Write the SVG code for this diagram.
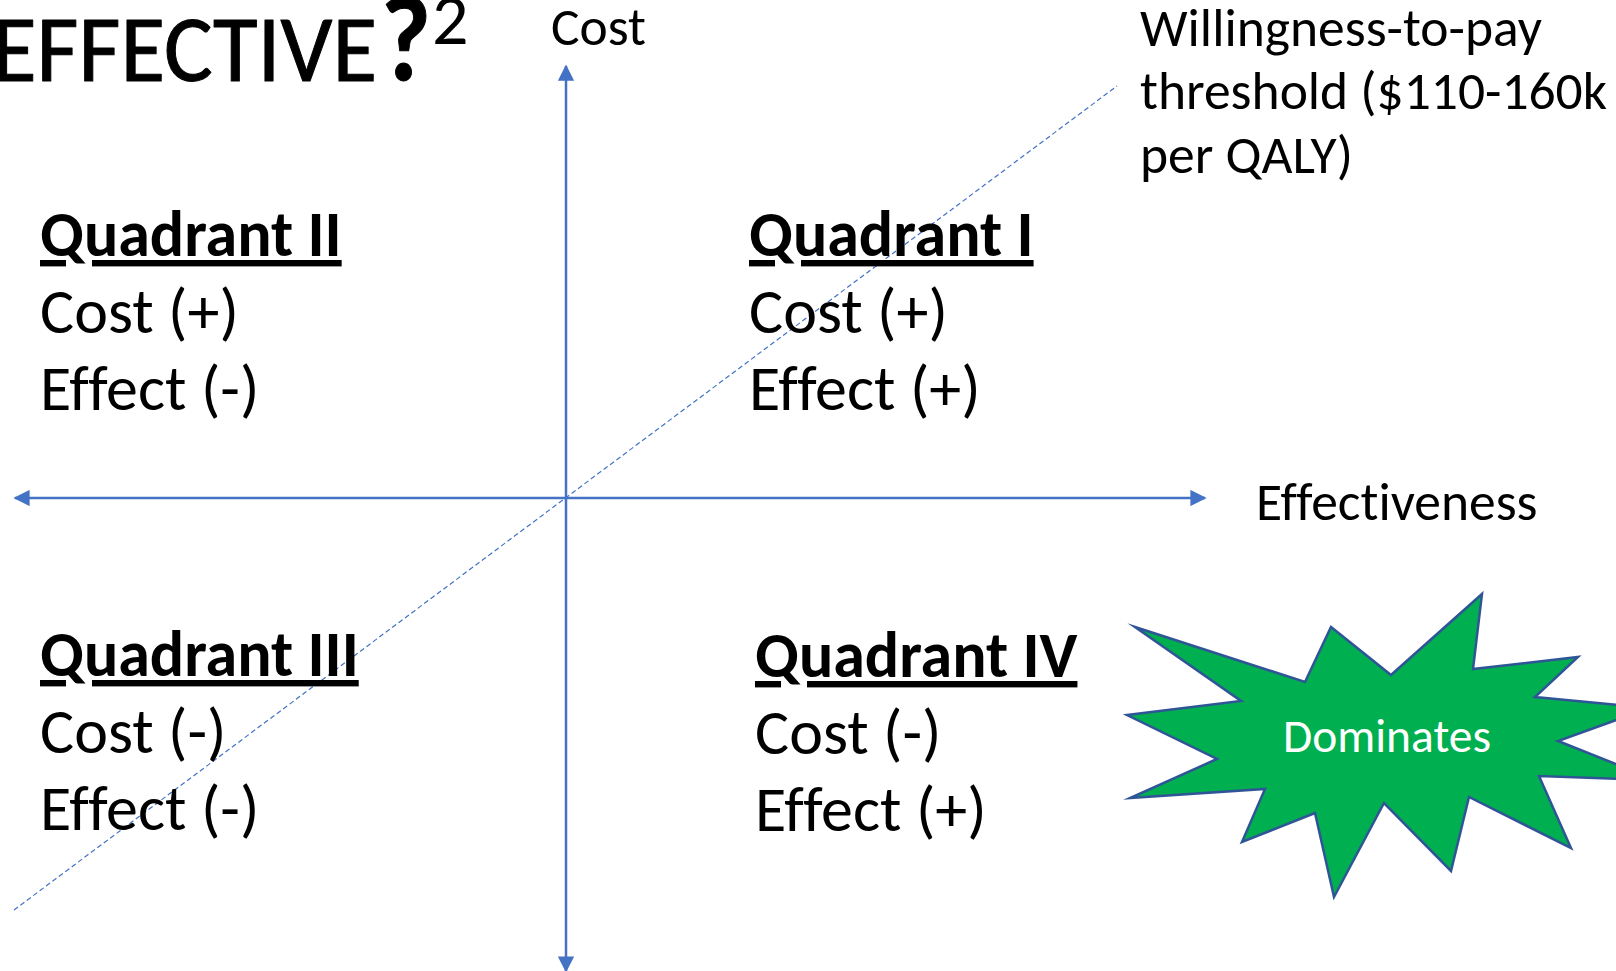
<svg xmlns="http://www.w3.org/2000/svg" width="1616" height="971" viewBox="0 0 1616 971">
<style>
text{font-family:Carlito,Lato,"Open Sans",sans-serif;fill:#000;font-variant-ligatures:none}
.h{font-size:64px;font-weight:700;text-decoration:underline;text-decoration-skip-ink:none;text-underline-offset:8px}
.b{font-size:64px}
.s{font-size:53.5px}
.t{stroke:#000;stroke-width:1;stroke-linejoin:round}
.axis{stroke:#4472C4;stroke-width:2.5;fill:none}
</style>
<defs>
<marker id="arr" viewBox="0 0 10 10" refX="9" refY="5" markerWidth="6.5" markerHeight="6.5" orient="auto-start-reverse"><path d="M0 0L10 5L0 10Z" fill="#4472C4"/></marker>
</defs>
<rect width="1616" height="971" fill="#fff"/>
<g id="connectors">
<line class="axis" x1="566" y1="66" x2="566" y2="971" marker-start="url(#arr)" marker-end="url(#arr)"/>
<line class="axis" x1="15" y1="498" x2="1205" y2="498" marker-start="url(#arr)" marker-end="url(#arr)"/>
<line x1="14" y1="910" x2="1117" y2="86" stroke="#4472C4" stroke-width="1.2" stroke-dasharray="5 3" fill="none"/>
</g>
<g id="title">
<text class="t" x="-8" y="81" font-size="94" textLength="385" lengthAdjust="spacingAndGlyphs">EFFECTIVE</text>
<text class="t" x="381" y="80" font-size="122" font-weight="700" textLength="50" lengthAdjust="spacingAndGlyphs">?</text>
<text x="432" y="44" font-size="72">2</text>
</g>
<g id="cost-label"><text class="s" x="551" y="45">Cost</text></g>
<g id="effectiveness-label"><text class="s" x="1256" y="520">Effectiveness</text></g>
<g id="wtp-label">
<text class="s" x="1140" y="46">Willingness-to-pay</text>
<text class="s" x="1140" y="109">threshold ($110-160k</text>
<text class="s" x="1140" y="173">per QALY)</text>
</g>
<g id="quadrant-2">
<text class="h" x="40" y="256">Quadrant II</text>
<text class="b" x="40" y="333">Cost (+)</text>
<text class="b" x="40" y="410">Effect (-)</text>
</g>
<g id="quadrant-1">
<text class="h" x="749" y="256">Quadrant I</text>
<text class="b" x="749" y="333">Cost (+)</text>
<text class="b" x="749" y="410">Effect (+)</text>
</g>
<g id="quadrant-3">
<text class="h" x="40" y="676">Quadrant III</text>
<text class="b" x="40" y="753">Cost (-)</text>
<text class="b" x="40" y="830">Effect (-)</text>
</g>
<g id="quadrant-4">
<text class="h" x="755" y="677">Quadrant IV</text>
<text class="b" x="755" y="754">Cost (-)</text>
<text class="b" x="755" y="831">Effect (+)</text>
</g>
<g id="dominates">
<polygon points="1135,627 1305,682 1331,627 1391,675 1482,594 1473,669 1578,657 1535,697 1650,708 1558,741 1656,780 1539,776 1571,848 1469,797 1451,871 1384,803 1334,897 1315,813 1242,842 1265,789 1130,798 1217,759 1127,715 1241,701" fill="#00B050" stroke="#2F5597" stroke-width="2.5" stroke-miterlimit="20"/>
<text x="1387" y="752" font-size="47.5" text-anchor="middle" style="fill:#fff">Dominates</text>
</g>
</svg>
